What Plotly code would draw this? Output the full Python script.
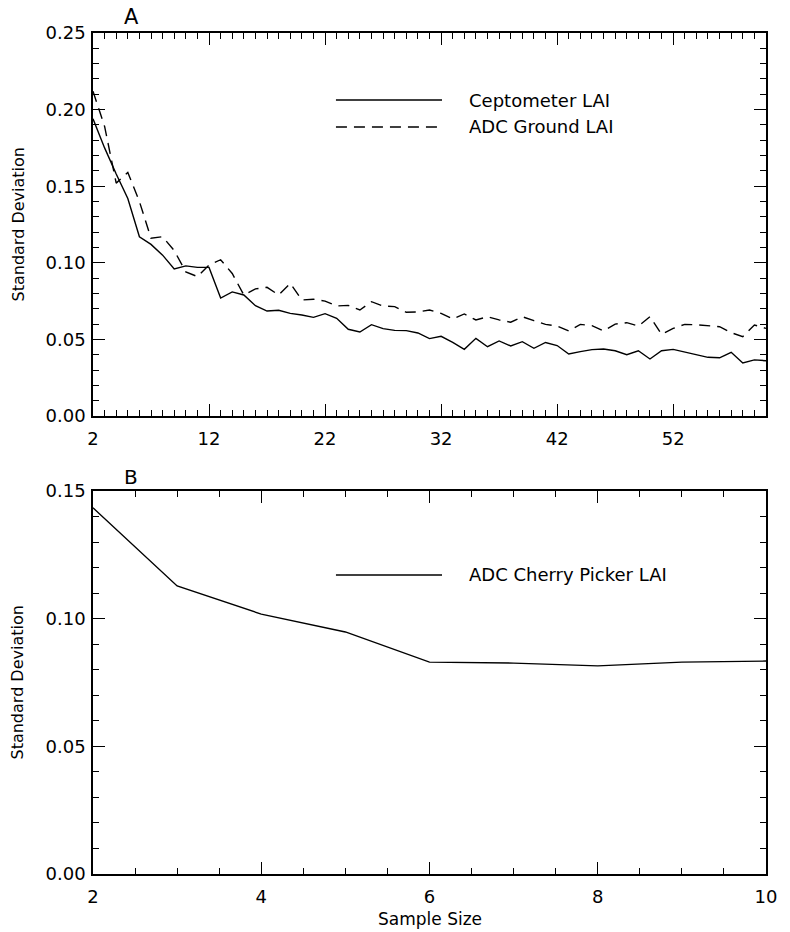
import plotly.graph_objects as go

# ---------------- data ----------------
sample_size_a = list(range(2, 61))
ceptometer_lai = [0.194, 0.175, 0.158, 0.142, 0.117, 0.112, 0.105, 0.096, 0.098, 0.097,
                  0.097, 0.077, 0.081, 0.079, 0.072, 0.0685, 0.069, 0.067, 0.0659, 0.0644,
                  0.0668, 0.0638, 0.0566, 0.0548, 0.0596, 0.057, 0.0559, 0.0557, 0.0542, 0.0505,
                  0.052, 0.0481, 0.0435, 0.0507, 0.0452, 0.049, 0.0457, 0.0485, 0.0442, 0.048,
                  0.046, 0.0405, 0.042, 0.0433, 0.0437, 0.0426, 0.040, 0.0426, 0.0372, 0.0426,
                  0.0435, 0.0418, 0.0398, 0.0383, 0.038, 0.0416, 0.0346, 0.0366, 0.0361]
adc_ground_lai = [0.212, 0.189, 0.152, 0.159, 0.140, 0.116, 0.117, 0.108, 0.094, 0.091,
                  0.0986, 0.102, 0.093, 0.079, 0.083, 0.084, 0.079, 0.0866, 0.0757, 0.0762,
                  0.075, 0.0718, 0.0722, 0.0692, 0.0746, 0.0718, 0.0714, 0.0677, 0.0679, 0.0692,
                  0.067, 0.0633, 0.0666, 0.0627, 0.0648, 0.0627, 0.0612, 0.0648, 0.0622, 0.0598,
                  0.0587, 0.0555, 0.0598, 0.059, 0.0555, 0.060, 0.0609, 0.0587, 0.0648, 0.0533,
                  0.0572, 0.0598, 0.0596, 0.059, 0.0583, 0.0544, 0.0518, 0.0594, 0.0572]

sample_size_b = [2, 3, 4, 5, 6, 7, 8, 9, 10]
cherry_picker_lai = [0.1434, 0.1128, 0.1018, 0.0948, 0.0830, 0.0826, 0.0815, 0.0830, 0.0834]

ticks_a_x = [2, 12, 22, 32, 42, 52]
ticks_a_y = [0.00, 0.05, 0.10, 0.15, 0.20, 0.25]
ticks_b_x = [2, 4, 6, 8, 10]
ticks_b_y = [0.00, 0.05, 0.10, 0.15]

# ---------------- figure ----------------
FONT = "DejaVu Sans"
LW = 1.4

fig = go.Figure()
fig.add_trace(go.Scatter(x=sample_size_a, y=ceptometer_lai, mode="lines",
                         line=dict(color="black", width=LW), xaxis="x", yaxis="y",
                         name="Ceptometer LAI", showlegend=False))
fig.add_trace(go.Scatter(x=sample_size_a, y=adc_ground_lai, mode="lines",
                         line=dict(color="black", width=LW, dash="11px,7px"), xaxis="x", yaxis="y",
                         name="ADC Ground LAI", showlegend=False))
fig.add_trace(go.Scatter(x=sample_size_b, y=cherry_picker_lai, mode="lines",
                         line=dict(color="black", width=LW), xaxis="x2", yaxis="y2",
                         name="ADC Cherry Picker LAI", showlegend=False))

axis_common = dict(showline=True, linecolor="black", linewidth=1.5, mirror="allticks",
                   ticks="inside", ticklen=12, tickwidth=1.2, tickcolor="black",
                   showgrid=False, zeroline=False)

fig.update_layout(
    width=790, height=932,
    margin=dict(l=93, r=24, t=33, b=58),
    paper_bgcolor="white", plot_bgcolor="white",
    font=dict(family=FONT, color="black"),
    xaxis=dict(domain=[0, 1], anchor="y", range=[2, 60], tickvals=ticks_a_x,
               tickfont=dict(size=18, family=FONT), ticklabelstandoff=6,
               minor=dict(dtick=1, tick0=2, ticks="inside", ticklen=6, tickwidth=1.2,
                          tickcolor="black", showgrid=False),
               **axis_common),
    yaxis=dict(domain=[0.5446, 1], anchor="x", range=[0, 0.25], tickvals=ticks_a_y,
               tickformat=".2f", tickfont=dict(size=18, family=FONT), ticklabelstandoff=2,
               minor=dict(dtick=0.01, tick0=0, ticks="inside", ticklen=6, tickwidth=1.2,
                          tickcolor="black", showgrid=False),
               **axis_common),
    xaxis2=dict(domain=[0, 1], anchor="y2", range=[2, 10], tickvals=ticks_b_x,
                tickfont=dict(size=18, family=FONT), ticklabelstandoff=6,
                minor=dict(dtick=0.5, tick0=2, ticks="inside", ticklen=6, tickwidth=1.2,
                           tickcolor="black", showgrid=False),
                **axis_common),
    yaxis2=dict(domain=[0, 0.4554], anchor="x2", range=[0, 0.15], tickvals=ticks_b_y,
                tickformat=".2f", tickfont=dict(size=18, family=FONT), ticklabelstandoff=2,
                minor=dict(dtick=0.01, tick0=0, ticks="inside", ticklen=6, tickwidth=1.2,
                           tickcolor="black", showgrid=False),
                **axis_common),
)

annotations = []
shapes = []

# panel letters
annotations.append(dict(text="A", xref="paper", yref="paper", x=0.0565, y=1, yshift=16,
                        showarrow=False, font=dict(size=21, family=FONT), xanchor="center", yanchor="middle"))
annotations.append(dict(text="B", xref="paper", yref="paper", x=0.0565, y=0.4554, yshift=14,
                        showarrow=False, font=dict(size=20, family=FONT), xanchor="center", yanchor="middle"))

# y-axis titles
for yc in [(0.5446 + 1) / 2, 0.4554 / 2]:
    annotations.append(dict(text="Standard Deviation", xref="paper", yref="paper", x=0, xshift=-75,
                            y=yc, textangle=-90, showarrow=False, font=dict(size=16, family=FONT),
                            xanchor="center", yanchor="middle"))
# x-axis title
annotations.append(dict(text="Sample Size", xref="paper", yref="paper", x=0.5, y=0, yshift=-45,
                        showarrow=False, font=dict(size=17, family=FONT), xanchor="center", yanchor="middle"))

# legend (drawn in axis-domain coordinates)
def legend_entry(xr, yr, ydom, label, dash):
    shapes.append(dict(type="line", xref=xr + " domain", yref=yr + " domain",
                       x0=0.361, x1=0.5186, y0=ydom, y1=ydom,
                       line=dict(color="black", width=LW, dash=dash)))
    annotations.append(dict(text=label, xref=xr + " domain", yref=yr + " domain",
                            x=0.5557, y=ydom, xanchor="left", yanchor="middle", showarrow=False,
                            font=dict(size=18, family=FONT)))

legend_entry("x", "y", 0.825, "Ceptometer LAI", "solid")
legend_entry("x", "y", 0.7546, "ADC Ground LAI", "11px,7px")
legend_entry("x2", "y2", 0.7807, "ADC Cherry Picker LAI", "solid")

fig.update_layout(annotations=annotations, shapes=shapes)

fig.write_html("out.html", config={"displayModeBar": False},
               post_script="document.body.style.margin='0';document.body.style.overflow='hidden';")
